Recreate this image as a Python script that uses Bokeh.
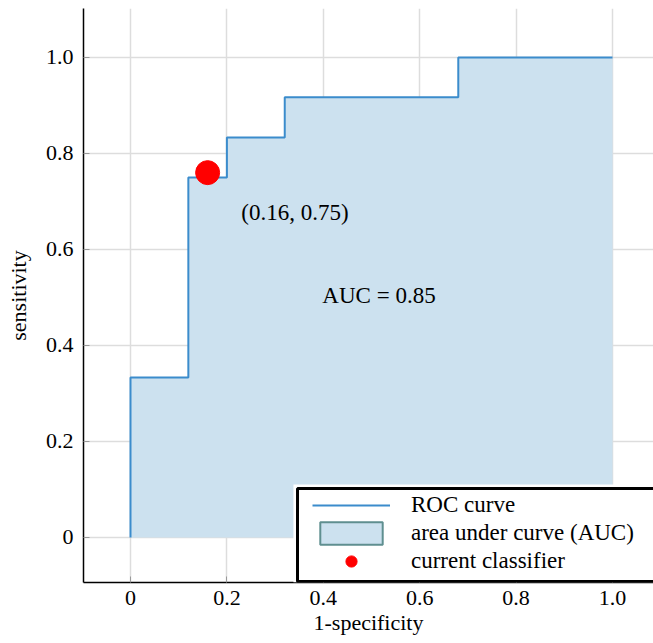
from bokeh.plotting import figure
from bokeh.models import FixedTicker, Range1d, Legend, LegendItem, BoxAnnotation
from bokeh.embed import file_html
from bokeh.resources import INLINE
from bokeh.core.properties import value

# ---- data ----
fpr = [0, 0, 0.12, 0.12, 0.2, 0.2, 0.32, 0.32, 0.68, 0.68, 1.0]
tpr = [0, 0.333, 0.333, 0.75, 0.75, 0.833, 0.833, 0.917, 0.917, 1.0, 1.0]
classifier_x = [0.16]
classifier_y = [0.76]
point_label = "(0.16, 0.75)"
auc_label = "AUC = 0.85"
ticks = [0, 0.2, 0.4, 0.6, 0.8, 1.0]
tick_labels = ["0", "0.2", "0.4", "0.6", "0.8", "1.0"]

FONT = "Liberation Serif"
FILL = "#cce1ef"
LINE = "#3b8ccc"

p = figure(width=653, height=643, output_backend="svg", toolbar_location=None,
           x_range=Range1d(-0.0975, 1.085), y_range=Range1d(-0.094, 1.102),
           min_border_left=83, min_border_right=0, min_border_top=8, min_border_bottom=61)
p.outline_line_color = None

area = p.varea(x=fpr, y1=[0] * len(fpr), y2=tpr, fill_color=FILL)
roc = p.line(fpr, tpr, line_color=LINE, line_width=2)
dot = p.scatter(classifier_x, classifier_y, size=24, color="#ff0000")

# legend-only stand-in for the AUC area (filled box with an outline)
proxy = p.quad(left=[fpr[0]], right=[fpr[-1]], top=[tpr[-1]], bottom=[0],
               fill_color=FILL, line_color="#5f8f90", line_width=2)
proxy.visible = False

p.text(x=[0.230], y=[0.677], text=[point_label], text_font=value(FONT),
       text_font_size="23px", text_baseline="middle", text_align="left", text_color="black")
p.text(x=[0.398], y=[0.504], text=[auc_label], text_font=value(FONT),
       text_font_size="23px", text_baseline="middle", text_align="left", text_color="black")

for ax in (p.xaxis[0], p.yaxis[0]):
    ax.ticker = FixedTicker(ticks=ticks)
    ax.major_label_overrides = {t: l for t, l in zip(ticks, tick_labels)}
    ax.major_label_text_font = FONT
    ax.major_label_text_font_size = "22px"
    ax.major_label_text_color = "black"
    ax.axis_label_text_font = FONT
    ax.axis_label_text_font_size = "22px"
    ax.axis_label_text_font_style = "normal"
    ax.axis_label_text_color = "black"
    ax.axis_line_color = "black"
    ax.axis_line_width = 1.5
    ax.major_tick_in = 6
    ax.major_tick_out = 0
    ax.major_tick_line_color = "#999999"
    ax.minor_tick_line_color = None

p.xaxis.axis_label = "1-specificity"
p.yaxis.axis_label = "sensitivity"
p.xaxis.major_label_standoff = 8
p.xaxis.axis_label_standoff = 2
p.yaxis.major_label_standoff = 10
p.yaxis.axis_label_standoff = 12

p.xgrid.ticker = FixedTicker(ticks=ticks)
p.ygrid.ticker = FixedTicker(ticks=ticks)
p.grid.grid_line_color = "#dddddd"
p.grid.grid_line_width = 1.5

# legend frame: white margin, then black border box (runs off the right edge)
p.add_layout(BoxAnnotation(left=0.338, right=1.3, bottom=-0.094, top=0.110,
                           fill_color="white", fill_alpha=1, line_color=None))
p.add_layout(BoxAnnotation(left=0.3465, right=1.3, bottom=-0.0917, top=0.102,
                           fill_color="white", fill_alpha=1, line_color="black",
                           line_alpha=1, line_width=3))

legend = Legend(items=[
    LegendItem(label="ROC curve", renderers=[roc]),
    LegendItem(label="area under curve (AUC)", renderers=[proxy]),
    LegendItem(label="current classifier", renderers=[dot]),
], location=(229, 7))
legend.margin = 0
legend.padding = 5
legend.spacing = 0
legend.glyph_width = 78
legend.glyph_height = 28
legend.label_height = 28
legend.label_standoff = 21
legend.label_text_font = FONT
legend.label_text_font_size = "23px"
legend.label_text_color = "black"
legend.border_line_color = None
legend.background_fill_alpha = 0
legend.inactive_fill_alpha = 0
p.add_layout(legend)

open("out.html", "w").write(file_html(p, INLINE))
